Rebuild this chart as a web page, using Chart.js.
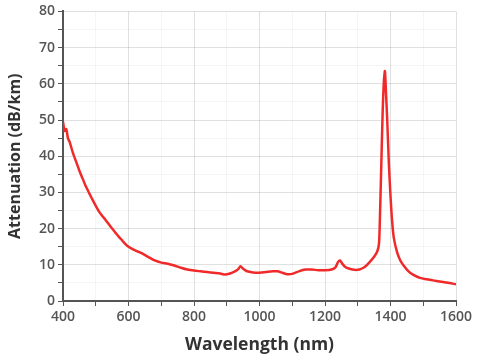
<!DOCTYPE html>
<html>
<head>
<meta charset="utf-8">
<script src="https://cdn.jsdelivr.net/npm/chart.js@4"></script>
<style>
  html, body { margin: 0; padding: 0; background: #fff; }
  #wrap { width: 479px; height: 360px; }
</style>
</head>
<body>
<div id="wrap"><canvas id="myChart" width="479" height="360"></canvas></div>
<script>
// Длины волн (нм) и затухание (дБ/км)
const wavelengths = [
  400, 405, 410, 415, 420, 430, 440, 450, 460, 470, 480, 490, 500, 510, 520, 530, 540, 550, 560, 570,
  580, 590, 600, 620, 640, 660, 680, 700, 720, 740, 760, 780, 800, 820, 840, 860, 880, 895, 910, 925,
  935, 942, 950, 960, 980, 1000, 1020, 1040, 1055, 1070, 1085, 1100, 1120, 1140, 1160, 1180, 1200, 1220, 1232, 1240,
  1246, 1252, 1262, 1275, 1290, 1305, 1320, 1335, 1350, 1360, 1365, 1368, 1372, 1376, 1380, 1383, 1386, 1390, 1395, 1400,
  1405, 1410, 1420, 1430, 1440, 1455, 1470, 1490, 1510, 1530, 1550, 1570, 1590, 1600
];
const attenuation = [
  49.5, 47, 47.5, 45, 44, 41, 38.5, 36, 33.8, 31.6, 29.8, 28, 26.3, 24.7, 23.5, 22.4, 21.2, 20, 18.9, 17.8,
  16.8, 15.8, 15, 14, 13.2, 12.2, 11.2, 10.6, 10.3, 9.8, 9.2, 8.7, 8.4, 8.2, 8.0, 7.8, 7.6, 7.3, 7.6, 8.2,
  8.8, 9.6, 8.9, 8.3, 7.9, 7.8, 8.0, 8.2, 8.2, 7.8, 7.4, 7.5, 8.2, 8.7, 8.7, 8.5, 8.5, 8.7, 9.3, 10.8,
  11.2, 10.4, 9.4, 8.9, 8.6, 8.7, 9.3, 10.6, 12.2, 13.8, 16, 24, 38, 52, 61, 63.5, 58, 50, 38, 29,
  22, 17.5, 13.5, 11.2, 9.8, 8.2, 7.2, 6.4, 6.0, 5.7, 5.4, 5.1, 4.8, 4.6
];
// Подписи осей
const xMin = 400, xMax = 1600, xStep = 100, xLabelStep = 200;
const yMin = 0, yMax = 80, yStep = 5, yLabelStep = 10;
const xTitle = 'Wavelength (nm)';
const yTitle = 'Attenuation (dB/km)';

const points = wavelengths.map((w, i) => ({ x: w, y: attenuation[i] }));

const tickFont = { family: "'Open Sans', sans-serif", size: 14, weight: '600' };

// Для основной и промежуточной сетки
function gridColor(ctx, step) {
  if (ctx.tick && Math.round(ctx.tick.value) % step !== 0) return 'rgba(0,0,0,0.04)';
  return 'rgba(0,0,0,0.12)';
}

const config = {
  type: 'line',
  data: {
    datasets: [{
      data: points,
      borderColor: '#f02a2a',
      borderWidth: 2.5,
      pointRadius: 0,
      tension: 0.25,
      fill: false
    }]
  },
  options: {
    responsive: false,
    animation: false,
    layout: { padding: { top: 10, right: 23, left: 0, bottom: 0 } },
    plugins: { legend: { display: false }, tooltip: { enabled: false } },
    scales: {
      x: {
        type: 'linear',
        min: xMin,
        max: xMax,
        afterFit: scale => { scale.height = 59; },
        ticks: {
          stepSize: xStep,
          color: '#555',
          font: tickFont,
          padding: 3,
          maxRotation: 0,
          autoSkip: false,
          callback: v => (v % xLabelStep === 0 ? v : '')
        },
        grid: {
          color: ctx => gridColor(ctx, xLabelStep),
          tickColor: '#555',
          tickLength: 5,
          drawTicks: true
        },
        border: { color: '#555', width: 2 },
        title: {
          display: true, text: xTitle, color: '#333',
          font: { family: "'Open Sans', sans-serif", size: 17.5, weight: 'bold' },
          padding: { top: 2 }
        }
      },
      y: {
        min: yMin,
        max: yMax,
        afterFit: scale => { scale.width = 63; },
        ticks: {
          stepSize: yStep,
          color: '#555',
          font: tickFont,
          padding: 3,
          autoSkip: false,
          callback: v => (v % yLabelStep === 0 ? v : '')
        },
        grid: {
          color: ctx => gridColor(ctx, yLabelStep),
          tickColor: '#555',
          tickLength: 5
        },
        border: { color: '#555', width: 2 },
        title: {
          display: true, text: yTitle, color: '#333',
          font: { family: "'Open Sans', sans-serif", size: 16, weight: 'bold' },
          padding: { top: 6, bottom: 0 }
        }
      }
    }
  }
};

const myChart = new Chart(document.getElementById('myChart'), config);
</script>
</body>
</html>
